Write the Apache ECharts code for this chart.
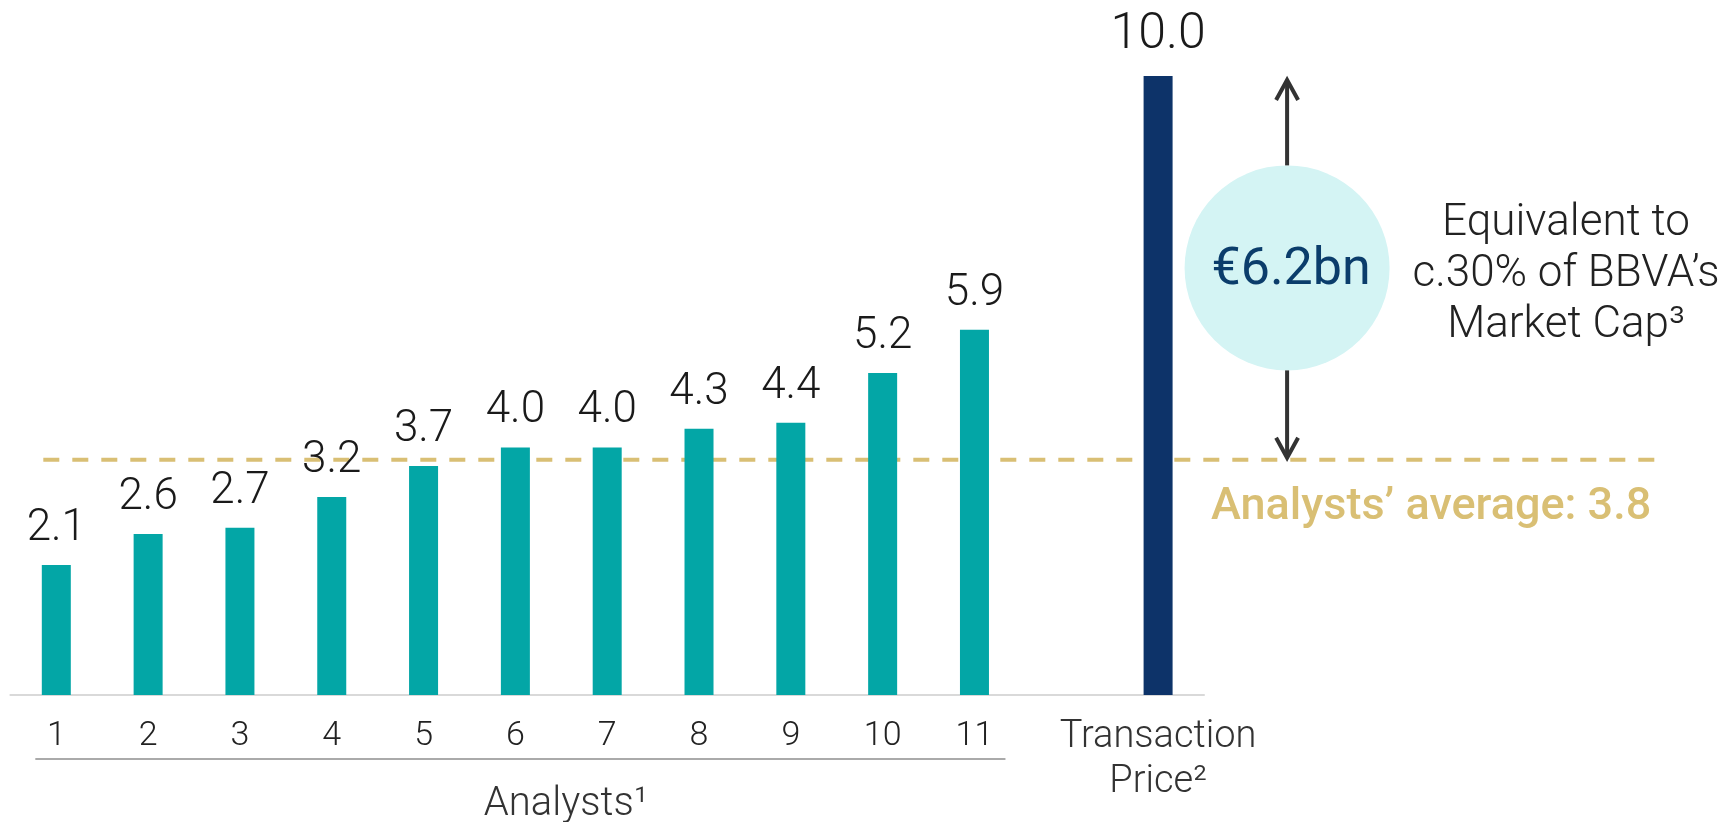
<!DOCTYPE html>
<html><head><meta charset="utf-8">
<script src="https://cdn.jsdelivr.net/npm/echarts@6/dist/echarts.min.js"></script>
<style>html,body{margin:0;padding:0;background:#fff}#c{width:1730px;height:822px}</style>
</head><body><div id="c"></div>
<script>
// ---- data ----
const categories = ['1','2','3','4','5','6','7','8','9','10','11','','Transaction\nPrice²'];
const analystValues = [2.1, 2.6, 2.7, 3.2, 3.7, 4.0, 4.0, 4.3, 4.4, 5.2, 5.9];
const transactionValue = 10.0;
const analystAverage = 3.8;
const yRange = [0, 10];
const groupLabel = 'Analysts¹';
const averageLabel = 'Analysts’ average: ' + analystAverage.toFixed(1);
const gapLabel = '€' + (transactionValue - analystAverage).toFixed(1) + 'bn';
const sideNote = 'Equivalent to\nc.30% of BBVA’s\nMarket Cap³';

const TEAL = '#03A6A6', NAVY = '#0D3369', GOLD = '#D9BF74', FONT = 'Roboto';

const barData = categories.map((c, i) => {
  if (i < analystValues.length) return analystValues[i];
  if (i === categories.length - 1) return {
    value: transactionValue,
    itemStyle: {color: NAVY},
    label: {fontSize: 50, lineHeight: 50, distance: 16}
  };
  return null;
});

const chart = echarts.init(document.getElementById('c'));
chart.setOption({
  animation: false,
  grid: {left: 10.4, right: 526, top: 76, bottom: 127, containLabel: false},
  xAxis: {
    type: 'category', data: categories,
    axisLine: {lineStyle: {color: '#d9d9d9', width: 2}},
    axisTick: {show: false},
    axisLabel: {
      interval: 0, margin: 20,
      formatter: v => v.indexOf('\n') >= 0
        ? v.split('\n').map(s => '{t|' + s + '}').join('\n')
        : '{n|' + v + '}',
      rich: {
        n: {fontFamily: FONT, fontWeight: 300, fontSize: 34, lineHeight: 42, color: '#222'},
        t: {fontFamily: FONT, fontWeight: 300, fontSize: 38, lineHeight: 45, color: '#333'}
      }
    }
  },
  yAxis: {type: 'value', min: yRange[0], max: yRange[1], show: false, splitLine: {show: false}},
  series: [{
    type: 'bar', data: barData, barWidth: 29,
    itemStyle: {color: TEAL},
    label: {
      show: true, position: 'top', distance: 14,
      fontFamily: FONT, fontWeight: 300, fontSize: 44, lineHeight: 44, color: '#1a1a1a',
      formatter: p => p.value == null ? '' : Number(p.value).toFixed(1)
    }
  }]
});

// ---- annotations positioned from the axes ----
const px = (i, v) => chart.convertToPixel({gridIndex: 0}, [i, v]);
const [xFirst] = px(0, 0);
const [xLast] = px(analystValues.length - 1, 0);
const [xT, yTop] = px(categories.length - 1, transactionValue);
const yAvg = px(0, analystAverage)[1];
const yBase = px(0, 0)[1];
const ax = xT + 129;
const cy = (yTop + yAvg) / 2;
const r = 102.5;
const arrowStyle = {stroke: '#333', lineWidth: 4, lineCap: 'butt', lineJoin: 'miter'};

chart.setOption({
  graphic: [
    {type: 'line', z: 1, shape: {x1: xFirst - 13, y1: yAvg, x2: 1662, y2: yAvg},
      style: {stroke: GOLD, lineWidth: 4, lineDash: [16, 13]}},
    {type: 'circle', z: 0, shape: {cx: ax, cy: cy, r: r}, style: {fill: '#D4F4F4'}},
    {type: 'line', shape: {x1: ax, y1: cy - r, x2: ax, y2: yTop + 5}, style: arrowStyle},
    {type: 'polyline', shape: {points: [[ax - 11, yTop + 24], [ax, yTop + 4], [ax + 11, yTop + 24]]}, style: Object.assign({fill: null}, arrowStyle)},
    {type: 'line', shape: {x1: ax, y1: cy + r, x2: ax, y2: yAvg - 3}, style: arrowStyle},
    {type: 'polyline', shape: {points: [[ax - 11, yAvg - 22], [ax, yAvg - 2], [ax + 11, yAvg - 22]]}, style: Object.assign({fill: null}, arrowStyle)},
    {type: 'text', x: ax + 4, y: cy + 3, style: {text: gapLabel, fontFamily: FONT, fontWeight: 400, fontSize: 52,
      fill: '#0B3D6B', align: 'center', verticalAlign: 'middle'}},
    {type: 'text', x: 1566, y: 198, style: {text: sideNote, fontFamily: FONT, fontWeight: 300, fontSize: 44,
      lineHeight: 51, fill: '#222', align: 'center', verticalAlign: 'top'}},
    {type: 'text', x: 1211, y: 523 - 15.4, style: {text: averageLabel, fontFamily: FONT, fontWeight: 500, fontSize: 45,
      fill: GOLD, align: 'left', verticalAlign: 'middle'}},
    {type: 'line', shape: {x1: xFirst - 21, y1: yBase + 64, x2: xLast + 31, y2: yBase + 64},
      style: {stroke: '#aaaaaa', lineWidth: 2}},
    {type: 'text', x: 566, y: 819 - 13.7, style: {text: groupLabel, fontFamily: FONT, fontWeight: 300, fontSize: 40,
      fill: '#333', align: 'center', verticalAlign: 'middle'}}
  ]
});
</script></body></html>
